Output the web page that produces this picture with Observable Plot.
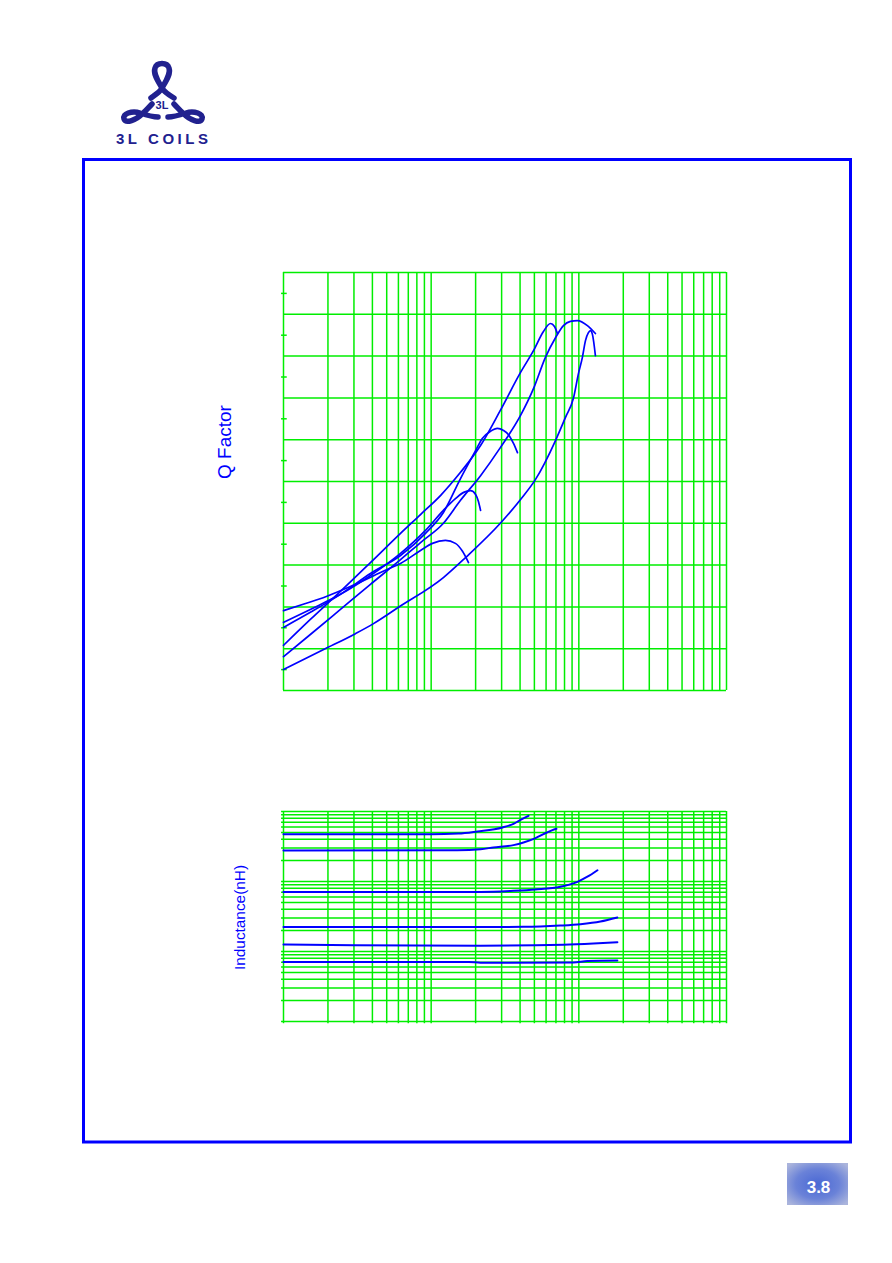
<!DOCTYPE html>
<html><head><meta charset="utf-8">
<script src="https://cdn.jsdelivr.net/npm/d3@7"></script>
<script src="https://cdn.jsdelivr.net/npm/@observablehq/plot@0.6"></script>
<style>
html,body{margin:0;padding:0;background:#fff;}
#page{position:relative;width:892px;height:1263px;overflow:hidden;background:#fff;font-family:"Liberation Sans",Arial,sans-serif;}
#qplot,#lplot{position:absolute;left:0;}
#qplot{top:0;}
#lplot{top:760px;}
#overlay{position:absolute;left:0;top:0;z-index:2;pointer-events:none;}
</style></head>
<body>
<div id="page">
<div id="qplot"></div>
<div id="lplot"></div>
<svg id="overlay" width="892" height="1263" viewBox="0 0 892 1263">
  <defs>
    <radialGradient id="badge" cx="50%" cy="50%" r="65%">
      <stop offset="0%" stop-color="#4a68d4"/>
      <stop offset="55%" stop-color="#6a82d8"/>
      <stop offset="100%" stop-color="#aab4dc"/>
    </radialGradient>
  </defs>
  <!-- logo -->
  <g fill="none" stroke="#21218f" stroke-width="5.5" stroke-linecap="round" stroke-linejoin="round">
    <path d="M151,98 C155,95 160,92 162,88 C166,81 171,74 169,68 C167,62 157,62 155,68 C153,74 158,81 162,88 C164,92 169,95 174,98"/>
    <path d="M152,104 C148,108 146,111 142,114 C136,120 126,124 124,119 C122,114 132,110 140,113 C146,115 152,117 158,117"/>
    <path transform="translate(326,0) scale(-1,1)" d="M152,104 C148,108 146,111 142,114 C136,120 126,124 124,119 C122,114 132,110 140,113 C146,115 152,117 158,117"/>
  </g>
  <text x="162" y="109" text-anchor="middle" font-size="11" font-weight="bold" fill="#21218f" font-family="Liberation Sans, Arial, sans-serif">3L</text>
  <text x="116" y="143.5" font-size="15" font-weight="bold" fill="#21218f" font-family="Liberation Sans, Arial, sans-serif" textLength="92" lengthAdjust="spacing">3L COILS</text>
  <!-- page frame -->
  <rect x="83.5" y="159.5" width="767" height="982.5" fill="none" stroke="#0000ff" stroke-width="3"/>
  <!-- axis titles -->
  <text transform="translate(231,442) rotate(-90)" text-anchor="middle" font-size="19" fill="#0000ff" font-family="Liberation Sans, Arial, sans-serif">Q Factor</text>
  <text transform="translate(245,917.5) rotate(-90)" text-anchor="middle" font-size="15" fill="#0000ff" font-family="Liberation Sans, Arial, sans-serif" textLength="105" lengthAdjust="spacingAndGlyphs">Inductance(nH)</text>
  <!-- page badge -->
  <rect x="787" y="1163" width="61" height="42" fill="url(#badge)"/>
  <text x="818.5" y="1193" text-anchor="middle" font-size="17" font-weight="bold" fill="#ffffff" font-family="Liberation Sans, Arial, sans-serif">3.8</text>
</svg>
</div>
<script>
// ---------- grid / tick values ----------
const freqGrid = [10,20,30,40,50,60,70,80,90,100,200,300,400,500,600,700,800,900,1000,2000,3000,4000,5000,6000,7000,8000,9000,10000];
const qGrid = [0,10,20,30,40,50,60,70,80,90,100];
const qMinorTicks = [5,15,25,35,45,55,65,75,85,95];
const lGrid = [1,2,3,4,5,6,7,8,9,10,20,30,40,50,60,70,80,90,100,200,300,400,500,600,700,800,900,1000];

// ---------- Q factor series (frequency MHz, Q) ----------
const seriesNames = ["470nH","270nH","68nH","22nH","12nH","6.8nH"];
const q470Freq = [10,14.1,19.5,30.7,49.8,62.0,84.7,102,125,146,163,179];
const q470Q    = [19.1,20.8,22.5,25.4,28.9,30.4,33.5,35.2,35.9,35.2,33.3,30.6];
const q270Freq = [10,15.2,24.3,38.8,62.0,91.5,121,146,166,185,200,209,216];
const q270Q    = [16.3,19.4,23.0,27.5,32.8,38.3,43.1,45.9,47.4,47.8,46.9,45.2,43.1];
const q68Freq  = [10,15.2,24.3,38.8,62.0,91.5,121,158,200,222,252,281,309,334,361,384];
const q68Q     = [15.1,18.7,23.0,28.0,32.3,37.6,42.6,50.7,57.4,60.3,62.0,62.7,62.2,61.2,59.1,56.9];
const q22Freq  = [10,15.2,24.3,38.8,62.0,84.7,116,158,216,294,403,493,576,643,684,716];
const q22Q     = [10.8,17.0,23.7,30.6,37.6,42.1,46.7,52.2,58.6,67.0,76.1,81.3,85.9,87.8,87.1,85.4];
const q12Freq  = [10,15.2,24.3,38.8,62.0,84.7,121,158,216,294,403,493,594,695,787,877,979,1143,1295];
const q12Q     = [8.1,13.4,19.4,25.4,31.3,35.4,40.0,45.5,51.4,58.1,65.8,72.2,79.7,84.4,87.3,88.3,88.5,87.3,85.4];
const q68nFreq = [10,18.7,30.7,40.7,60.1,121,171,294,403,509,695,811,919,994,1057,1109,1161,1199,1236,1295];
const q68nQ    = [5.0,9.8,13.6,16.0,19.9,27.0,31.8,40.0,45.7,50.5,59.8,65.3,69.9,75.8,79.7,83.7,85.6,86.1,85.2,80.1];

// ---------- Inductance series (frequency MHz, L nH) ----------
const l470Freq = [10,99,153,206,304,361,403,456];
const l470L    = [475,475,483,518,591,667,761,868];
const l270Freq = [10,150,216,264,361,422,509,576,662,705];
const l270L    = [277,280,290,306,331,361,417,476,542,566];
const l68Freq  = [10,216,361,509,750,979,1143,1337];
const l68L     = [70.6,71.0,73.6,76.9,84,99,117,145];
const l22Freq  = [10,216,422,750,1026,1400,1824];
const l22L     = [22.4,22.4,22.5,23.5,24.6,26.8,30.6];
const l12Freq  = [10,30,216,787,1256,1824];
const l12L     = [12.6,12.3,12.1,12.5,13.0,13.6];
const l68nFreq = [10,180,216,919,1143,1824];
const l68nL    = [7.1,7.1,6.9,6.96,7.3,7.43];

const GREEN = "#00ee00";
const BLUE = "#0000ff";

const qSeries = [
  [seriesNames[0], q470Freq, q470Q],
  [seriesNames[1], q270Freq, q270Q],
  [seriesNames[2], q68Freq, q68Q],
  [seriesNames[3], q22Freq, q22Q],
  [seriesNames[4], q12Freq, q12Q],
  [seriesNames[5], q68nFreq, q68nQ]
];
const lSeries = [
  [seriesNames[0], l470Freq, l470L],
  [seriesNames[1], l270Freq, l270L],
  [seriesNames[2], l68Freq, l68L],
  [seriesNames[3], l22Freq, l22L],
  [seriesNames[4], l12Freq, l12L],
  [seriesNames[5], l68nFreq, l68nL]
];
const qTable = qSeries.flatMap(([name, fs, qs]) => fs.map((f, i) => ({series: name, f, q: qs[i]})));
const lTable = lSeries.flatMap(([name, fs, ls]) => fs.map((f, i) => ({series: name, f, l: ls[i]})));

const qChart = Plot.plot({
  width: 892, height: 700,
  marginTop: 272, marginBottom: 10, marginLeft: 283, marginRight: 166,
  style: {background: "transparent"},
  x: {type: "log", domain: [10, 10000], axis: null},
  y: {domain: [0, 100], axis: null},
  marks: [
    Plot.ruleX(freqGrid, {stroke: GREEN, strokeWidth: 1.5}),
    Plot.ruleY(qGrid, {stroke: GREEN, strokeWidth: 1.5}),
    Plot.ruleY(qMinorTicks, {x1: 9.7, x2: 10.6, stroke: GREEN, strokeWidth: 1.5}),
    Plot.line(qTable, {x: "f", y: "q", z: "series", stroke: BLUE, strokeWidth: 1.7, curve: "monotone-x"})
  ]
});
document.getElementById("qplot").appendChild(qChart);

const lChart = Plot.plot({
  width: 892, height: 272,
  marginTop: 51, marginBottom: 11, marginLeft: 283, marginRight: 166,
  style: {background: "transparent"},
  x: {type: "log", domain: [10, 10000], axis: null},
  y: {type: "log", domain: [1, 1000], axis: null},
  marks: [
    Plot.ruleX(freqGrid, {y1: 0.93, y2: 1000, stroke: GREEN, strokeWidth: 1.5}),
    Plot.ruleY(lGrid, {x1: 9.7, x2: 10000, stroke: GREEN, strokeWidth: 1.5}),
    Plot.line(lTable, {x: "f", y: "l", z: "series", stroke: BLUE, strokeWidth: 2, curve: "monotone-x"})
  ]
});
document.getElementById("lplot").appendChild(lChart);
</script>
</body></html>
